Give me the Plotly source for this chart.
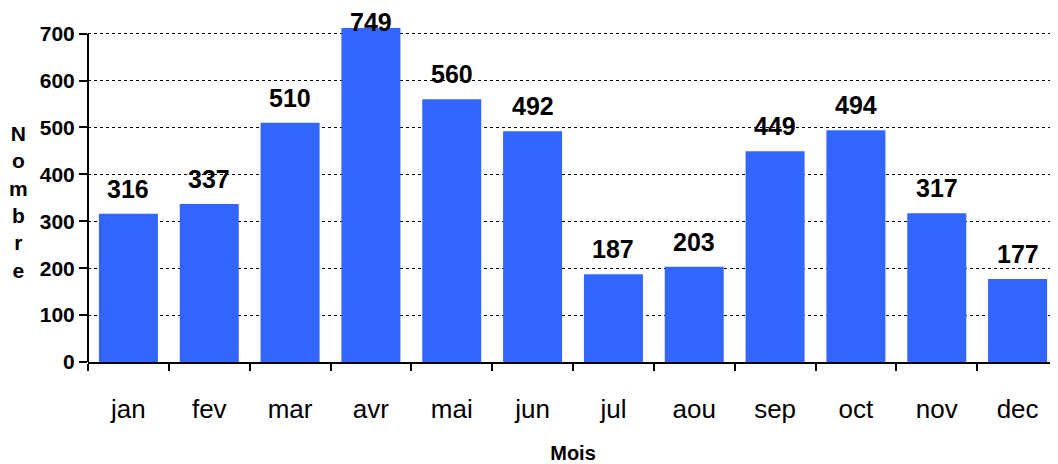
import plotly.graph_objects as go

# Données mensuelles
mois = ["jan", "fev", "mar", "avr", "mai", "jun", "jul", "aou", "sep", "oct", "nov", "dec"]
nombre = [316, 337, 510, 749, 560, 492, 187, 203, 449, 494, 317, 177]
y_ticks = [0, 100, 200, 300, 400, 500, 600, 700]

Y_MAX = 712
FONT = "Liberation Sans, Arial, sans-serif"

fig = go.Figure()
fig.add_trace(go.Bar(
    x=mois,
    y=nombre,
    marker=dict(color="#3366FF", line=dict(width=0)),
    hoverinfo="x+y",
))

# étiquettes de valeurs (la barre qui dépasse est coupée au sommet, comme l'original)
for m, v in zip(mois, nombre):
    fig.add_annotation(
        x=m, y=min(v, Y_MAX), text=f"<b>{v}</b>",
        showarrow=False, yanchor="bottom", yshift=9 if v <= Y_MAX else -10,
        font=dict(family=FONT, size=25, color="black"),
    )

# titre vertical empilé
fig.add_annotation(
    x=-0.072, y=0.48, xref="paper", yref="paper",
    text="<b>N<br>o<br>m<br>b<br>r<br>e</b>",
    showarrow=False, xanchor="center", yanchor="middle",
    font=dict(family=FONT, size=21, color="black"),
)

# axe vertical de 0 à 700
fig.add_shape(type="line", xref="paper", yref="y", x0=0, x1=0, y0=0, y1=700,
              line=dict(color="black", width=2))

# la page ajoute 8 px de marge autour du graphique
fig.update_layout(
    width=1050, height=456,
    margin=dict(l=80, r=0, t=20, b=102),
    plot_bgcolor="white", paper_bgcolor="white",
    bargap=0.27,
    showlegend=False,
    font=dict(family=FONT, color="black"),
    xaxis=dict(
        automargin=False,
        showline=True, linecolor="black", linewidth=2,
        ticks="outside", tickson="boundaries", ticklen=7, tickwidth=2, tickcolor="black",
        tickfont=dict(size=26), ticklabelstandoff=23,
        title=dict(text="<b>Mois</b>", font=dict(size=20), standoff=23),
        showgrid=False,
    ),
    yaxis=dict(
        automargin=False,
        range=[0, Y_MAX],
        tickvals=y_ticks,
        ticktext=[f"<b>{t}</b>" for t in y_ticks],
        tickfont=dict(size=21),
        ticks="outside", ticklen=8, tickwidth=2, tickcolor="black",
        showline=False, zeroline=False,
        showgrid=True, gridcolor="black", gridwidth=1, griddash="dot",
    ),
)

fig.write_html("out.html")
